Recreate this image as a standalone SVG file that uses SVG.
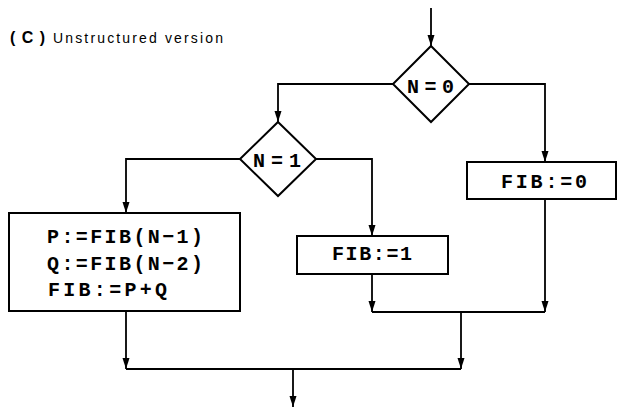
<svg xmlns="http://www.w3.org/2000/svg" width="620" height="411" viewBox="0 0 620 411">
<style>
.shape{fill:#fff;stroke:#000;stroke-width:2}
.conn{fill:none;stroke:#000;stroke-width:1.8}
.lbl{font-family:"Liberation Mono","DejaVu Sans Mono",monospace;font-size:20px;font-weight:bold;fill:#000}
.title{font-family:"Liberation Sans",Arial,sans-serif;fill:#000}
</style>
<defs>
<marker id="ah" markerUnits="userSpaceOnUse" markerWidth="12" markerHeight="8" refX="11" refY="3.5" orient="auto">
<path d="M0,0 L11,3.5 L0,7 z" fill="#000"/>
</marker>
</defs>
<g id="title">
<text class="title" x="10" y="43" font-size="16" font-weight="bold" textLength="35" lengthAdjust="spacing">(C)</text>
<text class="title" x="53" y="43" font-size="14" textLength="170" lengthAdjust="spacing">Unstructured version</text>
</g>
<g id="connectors">
<path class="conn" d="M431,8 V46" marker-end="url(#ah)"/>
<path class="conn" d="M393,84 H278 V122" marker-end="url(#ah)"/>
<path class="conn" d="M469,84 H545 V162" marker-end="url(#ah)"/>
<path class="conn" d="M240,159 H126 V213" marker-end="url(#ah)"/>
<path class="conn" d="M316,159 H372 V236" marker-end="url(#ah)"/>
<path class="conn" d="M372,274 V312" marker-end="url(#ah)"/>
<path class="conn" d="M545,199 V312" marker-end="url(#ah)"/>
<path class="conn" d="M372,312 H545"/>
<path class="conn" d="M461,312 V369" marker-end="url(#ah)"/>
<path class="conn" d="M126,311 V369" marker-end="url(#ah)"/>
<path class="conn" d="M126,369 H461"/>
<path class="conn" d="M293,369 V407" marker-end="url(#ah)"/>
</g>
<g id="n0">
<polygon class="shape" points="431,46 469,84 431,122 393,84"/>
<text class="lbl" x="407" y="93" textLength="47" lengthAdjust="spacing">N=0</text>
</g>
<g id="n1">
<polygon class="shape" points="278,122 316,159 278,196 240,159"/>
<text class="lbl" x="253" y="167" textLength="48" lengthAdjust="spacing">N=1</text>
</g>
<g id="fib0">
<rect class="shape" x="467" y="162" width="149" height="37"/>
<text class="lbl" x="501" y="188" textLength="86" lengthAdjust="spacing">FIB:=0</text>
</g>
<g id="fib1">
<rect class="shape" x="297" y="236" width="151" height="38"/>
<text class="lbl" x="332" y="260" textLength="80" lengthAdjust="spacing">FIB:=1</text>
</g>
<g id="fibpq">
<rect class="shape" x="9" y="213" width="231" height="98"/>
<text class="lbl" x="47" y="243" textLength="156" lengthAdjust="spacing">P:=FIB(N−1)</text>
<text class="lbl" x="47" y="270" textLength="156" lengthAdjust="spacing">Q:=FIB(N−2)</text>
<text class="lbl" x="48" y="296" textLength="119" lengthAdjust="spacing">FIB:=P+Q</text>
</g>
</svg>
